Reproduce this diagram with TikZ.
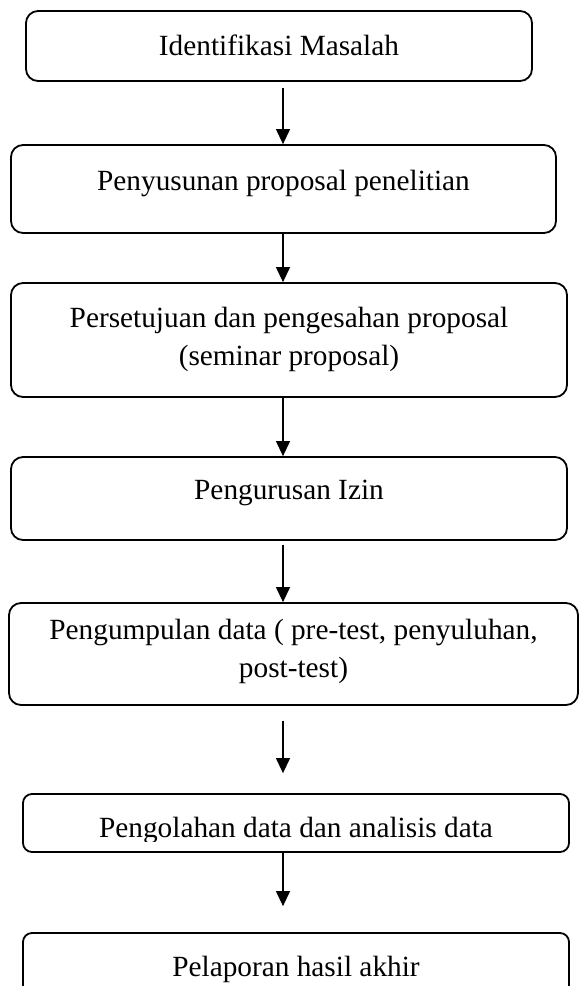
\documentclass[tikz,border=0pt]{standalone}
\usepackage{fontspec}
\setmainfont{Liberation Serif}
\usetikzlibrary{arrows.meta}

\tikzset{
  stepbox/.style={draw, line width=1.8pt, rounded corners=12pt, inner sep=0pt},
  steptext/.style={font=\fontsize{29.3}{38}\selectfont, align=center, anchor=base, inner sep=0pt},
  flow/.style={line width=1.2pt, -{Triangle[width=14pt,length=15pt]}}
}

\begin{document}
\begin{tikzpicture}[x=1pt, y=-1pt]

  \useasboundingbox (0,0) rectangle (579,986);
  \clip (0,0) rectangle (579,986);

  % Arrow axis
  \def \xA {283}
  \coordinate (axis) at (\xA, 0);

  % Identifikasi Masalah
  \node[stepbox, minimum width=506pt, minimum height=70pt] (ident) at (279, 46) {};
  \node[steptext] (identtxt) at (279, 55) {Identifikasi Masalah};

  % Penyusunan proposal
  \node[stepbox, minimum width=545pt, minimum height=88pt] (susun) at (283.5, 189) {};
  \node[steptext] (susuntxt) at (283.5, 190) {Penyusunan proposal penelitian};

  % Persetujuan proposal (base = last line)
  \node[stepbox, minimum width=556pt, minimum height=114pt] (setuju) at (289, 340) {};
  \node[steptext] (setujutxt) at (289, 365)
  {Persetujuan dan pengesahan proposal\\(seminar proposal)};

  % Pengurusan Izin
  \node[stepbox, minimum width=556pt, minimum height=83pt] (izin) at (289, 498.5) {};
  \node[steptext] (izintxt) at (289, 499) {Pengurusan Izin};

  % Pengumpulan data
  \node[stepbox, minimum width=569pt, minimum height=102pt] (kumpul) at (293.5, 654) {};
  \node[steptext] (kumpultxt) at (293.5, 677)
  {Pengumpulan data ( pre-test, penyuluhan,\\post-test)};

  % Pengolahan data (text cut by the box)
  \node[stepbox, rounded corners=9pt, minimum width=546pt, minimum height=58pt] (olah) at (296, 823) {};
  \coordinate (olahcut) at (0, 841);
  \begin{scope}
    \clip (olah.north west) rectangle (olah.east |- olahcut);
    \node[steptext] (olahtxt) at (296, 837) {Pengolahan data dan analisis data};
  \end{scope}

  % Pelaporan
  \node[stepbox, rounded corners=9pt, minimum width=546pt, minimum height=77pt] (lapor) at (296, 971.5) {};
  \node[steptext] (laportxt) at (296, 976) {Pelaporan hasil akhir};

  % LINES
  \draw[flow, shorten <=6pt] (ident.south -| axis) -- (susun.north -| axis);
  \draw[flow] (susun.south -| axis) -- (setuju.north -| axis);
  \draw[flow] (setuju.south -| axis) -- (izin.north -| axis);
  \draw[flow, shorten <=4pt] (izin.south -| axis) -- (kumpul.north -| axis);
  \draw[flow, shorten <=15pt, shorten >=20pt] (kumpul.south -| axis) -- (olah.north -| axis);
  \draw[flow, shorten >=26pt] (olah.south -| axis) -- (lapor.north -| axis);

\end{tikzpicture}
\end{document}
